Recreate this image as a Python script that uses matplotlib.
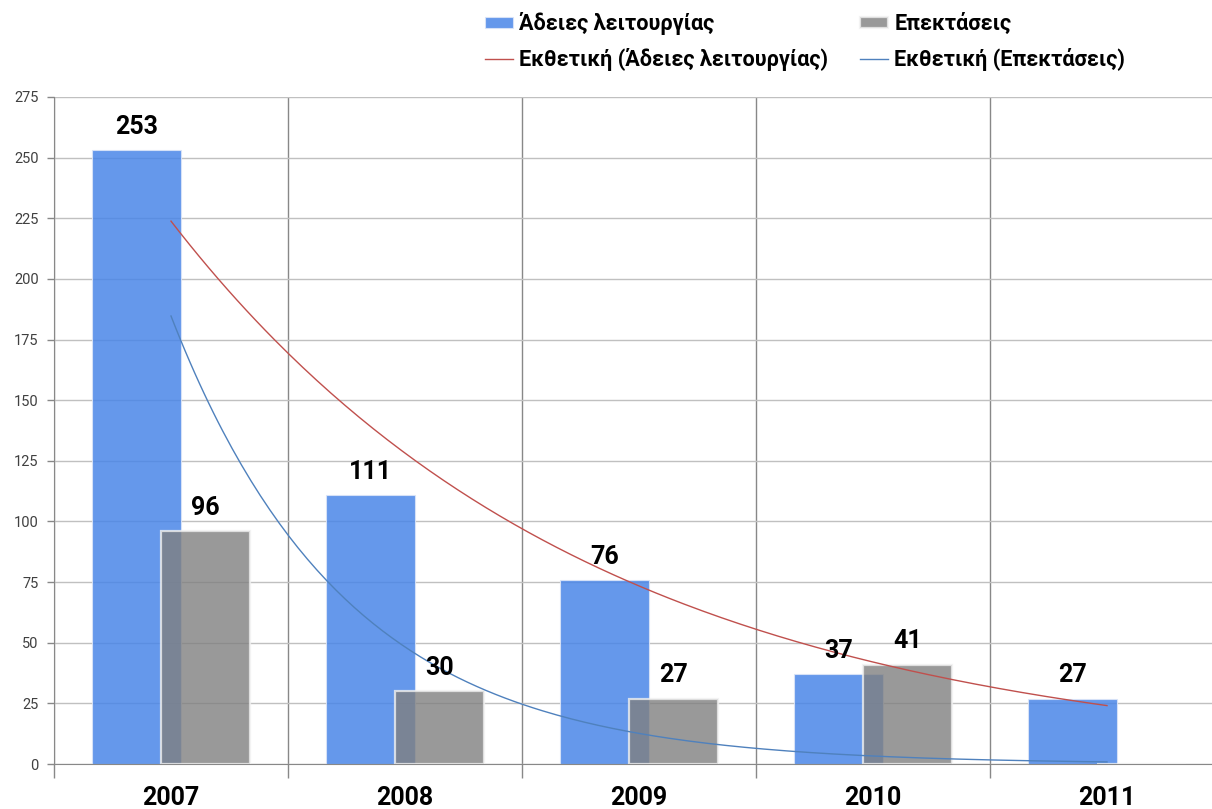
import matplotlib
matplotlib.use("Agg")
import matplotlib.pyplot as plt
import numpy as np

plt.rcParams['font.family'] = ['Roboto', 'DejaVu Sans']

years = ['2007', '2008', '2009', '2010', '2011']
adeies = [253, 111, 76, 37, 27]          # Άδειες λειτουργίας
epektaseis = [96, 30, 27, 41, 0.1]       # Επεκτάσεις (2011 ~ 0)

fig = plt.figure(figsize=(12.12, 8.09), dpi=100)
ax = fig.add_axes([54 / 1212, 1 - 764 / 809, 1 - 54 / 1212, (764 - 97) / 809])

x = np.arange(len(years))
w = 0.38
off = 0.148

b1 = ax.bar(x - off, adeies, w, color='#4A86E8', alpha=0.85, edgecolor='#dce6f8',
            linewidth=0.8, zorder=2, label='Άδειες λειτουργίας')
b2 = ax.bar(x + off, epektaseis, w, color='#808080', alpha=0.8, edgecolor='#f0f0f0',
            linewidth=1.6, zorder=3, label='Επεκτάσεις')

# exponential trendlines (like Excel)
xs = np.linspace(0, len(years) - 1, 200)
for vals, col, lab in [(adeies, '#C0504D', 'Εκθετική (Άδειες λειτουργίας)'),
                       (epektaseis, '#4F81BD', 'Εκθετική (Επεκτάσεις)')]:
    b, a = np.polyfit(x, np.log(vals), 1)
    ax.plot(xs, np.exp(a + b * xs), color=col, lw=1.0, zorder=4, label=lab)

for xi, v in zip(x - off, adeies):
    ax.annotate(str(v), (xi, v), xytext=(0, 8), textcoords='offset points',
                ha='center', va='bottom', fontsize=18, fontweight='bold', zorder=5)
for xi, v in zip(x + off, epektaseis):
    if v >= 1:
        ax.annotate(str(v), (xi, v), xytext=(0, 8), textcoords='offset points',
                    ha='center', va='bottom', fontsize=18, fontweight='bold', zorder=5)

ax.set_yticks(np.arange(0, 276, 25))
ax.tick_params(axis='y', labelsize=10.5, labelcolor='#404040', color='#888888',
               length=5, width=1, pad=6)
ax.set_xticks(x)
ax.set_xticklabels(years, fontsize=18, fontweight='bold')
ax.tick_params(axis='x', length=0, pad=16)
ax.set_xticks(np.arange(-0.5, 4.6, 1), minor=True)
ax.tick_params(axis='x', which='minor', length=10, width=1, color='#888888')
ax.set_ylim(0, 275)
ax.set_xlim(-0.5, -0.5 + 1158 / 234)

ax.grid(axis='y', color='#c0c0c0', lw=1, zorder=1)
ax.grid(axis='x', which='minor', color='#888888', lw=1, zorder=1)
ax.set_axisbelow(True)
for s in ['top', 'right']:
    ax.spines[s].set_visible(False)
for s in ['left', 'bottom']:
    ax.spines[s].set_color('#888888')

h, l = ax.get_legend_handles_labels()
# order: columns filled first -> [bar1, trend1, bar2, trend2]
order = [2, 0, 3, 1]
fig.legend([h[i] for i in order], [l[i] for i in order], ncol=2,
           loc='upper left', bbox_to_anchor=(465 / 1212, 1.009), frameon=False,
           prop={'size': 15.6, 'weight': 'bold'}, handlelength=1.3, handleheight=0.45,
           handletextpad=0.28, columnspacing=1.5, labelspacing=0.6)

fig.savefig('out.png', dpi=100)
